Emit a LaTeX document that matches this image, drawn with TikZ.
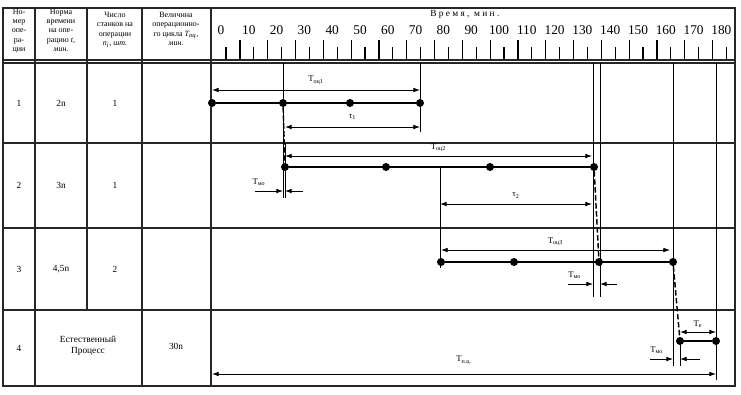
\documentclass[tikz,border=0pt]{standalone}
\usepackage{fontspec}
\setmainfont{Liberation Serif}
\usetikzlibrary{arrows.meta, positioning}

\begin{document}
\begin{tikzpicture}[x=0.75pt, y=-0.75pt,
    gridline/.style={draw=black!85, line width=0.9pt},
    thinline/.style={draw=black, line width=0.6pt},
    opline/.style={draw=black, line width=1pt},
    transfer/.style={draw=black, line width=1.1pt, dash pattern=on 4pt off 2pt},
    opdot/.style={circle, fill=black, inner sep=0pt, minimum size=6pt},
    dimarrow/.style={thinline, {Latex[length=5pt,width=3.5pt]}-{Latex[length=5pt,width=3.5pt]}},
    toarrow/.style={thinline, -{Latex[length=5pt,width=3.5pt]}},
    lbl/.style={font=\fontsize{6.5}{7}\selectfont, inner sep=1pt},
    headtext/.style={font=\fontsize{6}{7}\selectfont, align=center, inner sep=0pt},
    celltext/.style={font=\fontsize{7}{8}\selectfont, align=center}]
  \useasboundingbox (0,0) rectangle (741,394);

  % table frame
  \draw[gridline] (3,8) rectangle (735,386);
  \draw[gridline] (3,60) -- (735,60);
  \draw[gridline] (3,63) -- (735,63);
  \foreach \y in {143,228,310}
    \draw[gridline] (3,\y) -- (735,\y);
  \foreach \x in {35,142,211}
    \draw[gridline] (\x,8) -- (\x,386);
  \draw[gridline] (87,8) -- (87,310);

  % head of the table
  \node[headtext, anchor=north] (h1) at (19,8.5) {Но-\\мер\\опе-\\ра-\\ции};
  \node[headtext, anchor=north] (h2) at (61,8.5) {Норма\\времени\\на опе-\\рацию \textit{t},\\\textit{мин.}};
  \node[headtext, anchor=north] (h3) at (115,12) {Число\\станков на\\операции\\\textit{n\textsubscript{i}}, \textit{шт.}};
  \node[headtext, anchor=north] (h4) at (176,12) {Величина\\операционно-\\го цикла \textit{T\textsubscript{оц}},\\\textit{мин.}};

  % time scale
  \node[font=\fontsize{7}{8}\selectfont, anchor=west, inner sep=0pt] (tscale) at (430,14) {В р е м я ,\ \ м и н .};
  \foreach \k in {0,...,18}
    \node[font=\fontsize{10}{11}\selectfont, inner sep=0pt] (n\k) at (221+27.8*\k,30) {\the\numexpr10*\k\relax};
  \foreach \k in {0,...,17}
    \draw[thinline, line width=0.8pt] (240+27.8*\k,40) -- (240+27.8*\k,60);
  \foreach \k in {0,...,18}
    \draw[thinline, line width=0.8pt] (226+27.8*\k,47) -- (226+27.8*\k,60);

  % rows of the table
  \foreach \r/\y/\t/\m in {1/103/2n/1, 2/185/3n/1, 3/269/{4,5n}/2}{
    \node[celltext] (r\r a) at (19,\y) {\r};
    \node[celltext] (r\r b) at (61,\y) {\t};
    \node[celltext] (r\r c) at (115,\y) {\m};
  }
  \node[celltext] (r4a) at (19,348) {4};
  \node[celltext] (r4b) at (88,346) {Естественный\\Процесс};
  \node[celltext] (r4d) at (176,346) {30n};

  % verticals of the schedule
  \coordinate (v1t) at (283,63);  \coordinate (v1b) at (283,198);
  \coordinate (v2t) at (420,63);  \coordinate (v2b) at (420,132);
  \coordinate (v3t) at (285,143); \coordinate (v3b) at (285,198);
  \coordinate (v4t) at (440,167); \coordinate (v4b) at (440,268);
  \coordinate (v5t) at (593,63);  \coordinate (v5b) at (593,297);
  \coordinate (v6t) at (600,63);  \coordinate (v6b) at (600,297);
  \coordinate (v7t) at (673,63);  \coordinate (v7b) at (673,366);
  \coordinate (v8t) at (680,341); \coordinate (v8b) at (680,366);
  \coordinate (v9t) at (716,63);  \coordinate (v9b) at (716,380);
  \foreach \v in {1,...,9}
    \draw[thinline] (v\v t) -- (v\v b);

  % operation 1
  \node[opdot] (a1) at (212,103) {};
  \node[opdot] (a2) at (283,103) {};
  \node[opdot] (a3) at (350,103) {};
  \node[opdot] (a4) at (420,103) {};
  \draw[opline] (a1) -- (a4);
  \coordinate (oc1s) at (212,90);  \coordinate (oc1e) at (420,90);
  \draw[dimarrow] (oc1s) -- node[lbl, above=3pt] {T\textsubscript{оц1}} (oc1e);
  \coordinate (ta1s) at (285,127); \coordinate (ta1e) at (420,127);
  \draw[dimarrow] (ta1s) -- node[lbl, above=4pt] {τ\textsubscript{1}} (ta1e);

  % operation 2
  \node[opdot] (b1) at (285,167) {};
  \node[opdot] (b2) at (386,167) {};
  \node[opdot] (b3) at (490,167) {};
  \node[opdot] (b4) at (594,167) {};
  \draw[opline] (b1) -- (b4);
  \draw[transfer] (a2) -- (b1);
  \coordinate (oc2s) at (285,156); \coordinate (oc2e) at (592,156);
  \draw[dimarrow] (oc2s) -- node[lbl, above=2pt] {T\textsubscript{оц2}} (oc2e);
  \coordinate (ta2s) at (440,204); \coordinate (ta2e) at (592,204);
  \draw[dimarrow] (ta2s) -- node[lbl, above=3pt] {τ\textsubscript{2}} (ta2e);
  \coordinate (mo2l) at (255,191); \coordinate (mo2r) at (303,191);
  \draw[toarrow] (mo2l) -- (v1b |- mo2l);
  \draw[toarrow] (mo2r) -- (v3b |- mo2r);
  \node[lbl, above right=3pt and -3pt] (mo2) at (mo2l) {T\textsubscript{мо}};

  % operation 3
  \node[opdot] (c1) at (441,262) {};
  \node[opdot] (c2) at (514,262) {};
  \node[opdot] (c3) at (599,262) {};
  \node[opdot] (c4) at (673,262) {};
  \draw[opline] (c1) -- (c4);
  \draw[transfer] (b4) -- (c3);
  \coordinate (oc3s) at (441,250); \coordinate (oc3e) at (670,250);
  \draw[dimarrow] (oc3s) -- node[lbl, above=2pt] {T\textsubscript{оц3}} (oc3e);
  \coordinate (mo3l) at (568,284); \coordinate (mo3r) at (617,284);
  \draw[toarrow] (mo3l) -- (v5b |- mo3l);
  \draw[toarrow] (mo3r) -- (v6b |- mo3r);
  \node[lbl, above right=3pt and -1pt] (mo3) at (mo3l) {T\textsubscript{мо}};

  % natural process
  \node[opdot] (e1) at (680,341) {};
  \node[opdot] (e2) at (716,341) {};
  \draw[opline] (e1) -- (e2);
  \draw[transfer] (c4) -- (e1);
  \coordinate (tes) at (680,332); \coordinate (tee) at (716,332);
  \draw[dimarrow] (tes) -- node[lbl, above=2pt] {T\textsubscript{е}} (tee);
  \coordinate (mo4l) at (650,359); \coordinate (mo4r) at (700,359);
  \draw[toarrow] (mo4l) -- (v7b |- mo4l);
  \draw[toarrow] (mo4r) -- (v8b |- mo4r);
  \node[lbl, above right=3pt and -1pt] (mo4) at (mo4l) {T\textsubscript{мо}};
  \coordinate (pcs) at (212,374); \coordinate (pce) at (716,374);
  \draw[dimarrow] (pcs) -- node[lbl, above=6pt] {T\textsubscript{п.ц.}} (pce);
\end{tikzpicture}
\end{document}
